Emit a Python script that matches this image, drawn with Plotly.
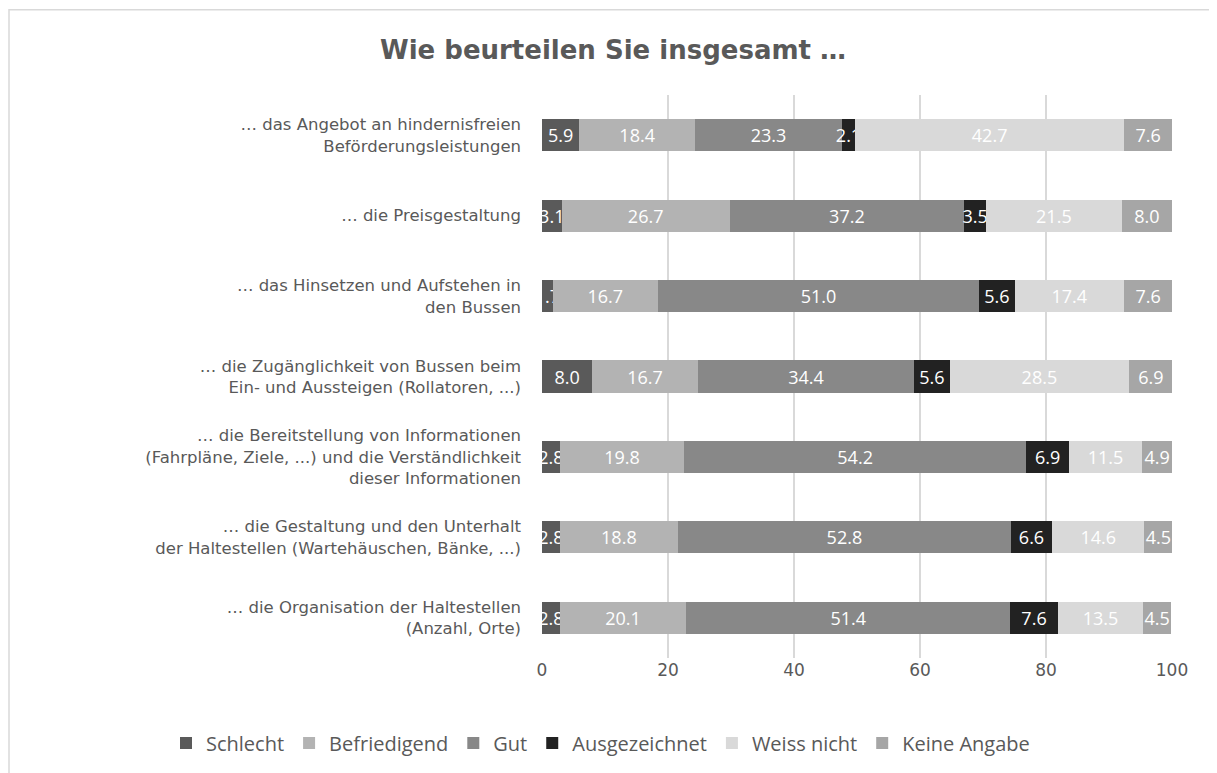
import plotly.graph_objects as go

categories = [
    "… das Angebot an hindernisfreien<br>Beförderungsleistungen",
    "… die Preisgestaltung",
    "… das Hinsetzen und Aufstehen in<br>den Bussen",
    "… die Zugänglichkeit von Bussen beim<br>Ein- und Aussteigen (Rollatoren, ...)",
    "… die Bereitstellung von Informationen<br>(Fahrpläne, Ziele, ...) und die Verständlichkeit<br>dieser Informationen",
    "… die Gestaltung und den Unterhalt<br>der Haltestellen (Wartehäuschen, Bänke, ...)",
    "… die Organisation der Haltestellen<br>(Anzahl, Orte)",
]
series_names = ["Schlecht", "Befriedigend", "Gut", "Ausgezeichnet", "Weiss nicht", "Keine Angabe"]
schlecht = [5.9, 3.1, 1.7, 8.0, 2.8, 2.8, 2.8]
befriedigend = [18.4, 26.7, 16.7, 16.7, 19.8, 18.8, 20.1]
gut = [23.3, 37.2, 51.0, 34.4, 54.2, 52.8, 51.4]
ausgezeichnet = [2.1, 3.5, 5.6, 5.6, 6.9, 6.6, 7.6]
weiss_nicht = [42.7, 21.5, 17.4, 28.5, 11.5, 14.6, 13.5]
keine_angabe = [7.6, 8.0, 7.6, 6.9, 4.9, 4.5, 4.5]
x_ticks = [0, 20, 40, 60, 80, 100]

series_values = [schlecht, befriedigend, gut, ausgezeichnet, weiss_nicht, keine_angabe]
colors = ["#5a5a5a", "#b3b3b3", "#888888", "#222222", "#d9d9d9", "#a6a6a6"]

label_font = "Open Sans, sans-serif"
axis_font = "DejaVu Sans, Verdana, sans-serif"

# page geometry (the page body has an 8px margin)
OX, OY = 8, 8
PAGE_W, PAGE_H = 1217, 773
W, H = PAGE_W - OX, PAGE_H - OY
PLOT_L, PLOT_R, PLOT_T, PLOT_B = 542, 1172, 95, 659  # page pixel coords
L = PLOT_L - OX
R = OX + W - PLOT_R
T = PLOT_T - OY
B = OY + H - PLOT_B
pw, ph = PLOT_R - PLOT_L, PLOT_B - PLOT_T


def px_x(x):
    return (x - PLOT_L) / pw


def px_y(y):
    return (PLOT_B - y) / ph


fig = go.Figure()
for name, vals, col in zip(series_names, series_values, colors):
    fig.add_trace(go.Bar(
        name=name, y=categories, x=vals, orientation="h",
        marker=dict(color=col, line=dict(width=0)),
        text=[f"{v:.1f}" for v in vals],
        textposition="inside", insidetextanchor="middle",
        textangle=0, constraintext="none",
        textfont=dict(color="white", size=18, family=label_font),
    ))

fig.add_shape(type="rect", xref="paper", yref="paper",
              x0=px_x(9), x1=px_x(1300), y0=px_y(9.5), y1=px_y(900),
              line=dict(color="#d9d9d9", width=1.5), layer="below")

fig.update_layout(
    width=W, height=H,
    margin=dict(l=L, r=R, t=T, b=B, pad=0),
    barmode="stack", bargap=0.6,
    plot_bgcolor="white", paper_bgcolor="white",
    uniformtext=dict(mode="show", minsize=18),
    title=dict(text="<b>Wie beurteilen Sie insgesamt …</b>",
               xref="container", x=(613 - OX) / W, xanchor="center",
               yref="container", y=1 - (50 - OY) / H, yanchor="middle",
               font=dict(family=axis_font, size=26, color="#595959")),
    legend=dict(orientation="h", xref="paper", x=px_x(166), xanchor="left",
                yref="paper", y=px_y(743), yanchor="middle",
                font=dict(family=label_font, size=20, color="#595959"),
                traceorder="normal", itemwidth=30),
    font=dict(family=axis_font, color="#595959"),
)
fig.update_xaxes(range=[0, 100], tickvals=x_ticks, showgrid=True,
                 gridcolor="#d9d9d9", gridwidth=2, zeroline=False,
                 tickfont=dict(size=17, color="#595959"), fixedrange=True)
fig.update_yaxes(autorange="reversed", showgrid=False, ticklabelstandoff=20,
                 tickfont=dict(size=16.5, color="#595959"), fixedrange=True)

fig.write_html("out.html")
